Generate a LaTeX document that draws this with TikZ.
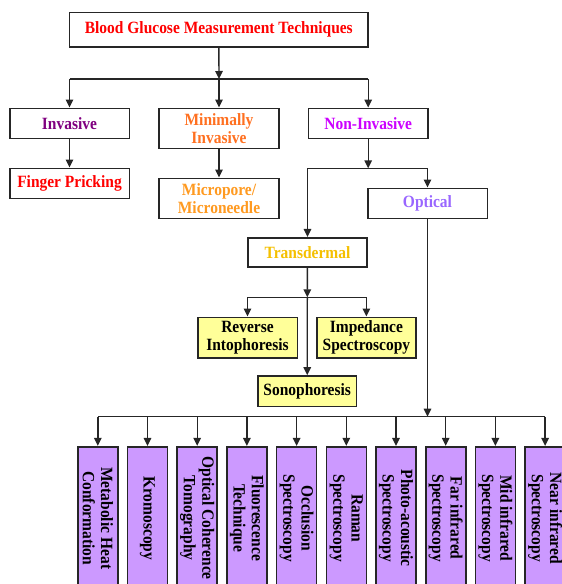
\documentclass[tikz,border=0pt]{standalone}
\usepackage{fontspec}
\setmainfont{Liberation Serif}[FakeStretch=0.9]
\usetikzlibrary{arrows.meta}
\definecolor{titlered}{HTML}{FF0000}
\definecolor{invpurple}{HTML}{800080}
\definecolor{miniorange}{HTML}{FF7020}
\definecolor{microorange}{HTML}{FF9A20}
\definecolor{nonmag}{HTML}{CC00FF}
\definecolor{optviolet}{HTML}{9966FF}
\definecolor{transgold}{HTML}{F5C000}
\definecolor{yellowfill}{HTML}{FFFF99}
\definecolor{purplefill}{HTML}{CC99FF}
\definecolor{linecol}{HTML}{262626}
\begin{document}
\begin{tikzpicture}[x=1pt,y=-1pt,
  box/.style={draw=linecol, line width=1.6pt, fill=white, rectangle, inner sep=0pt,
    align=center, font=\fontsize{17.2}{18.3}\selectfont\bfseries},
  ybox/.style={box, fill=yellowfill},
  pbox/.style={box, fill=purplefill, rotate=-90, minimum width=143pt, minimum height=40pt},
  conn/.style={draw=linecol, line width=1.4pt},
  arr/.style={conn, -{Triangle[length=8pt,width=7.5pt]}}]
\useasboundingbox (0,0) rectangle (562,584);
\clip (0,0) rectangle (562,584);

% nodes
\node[box, minimum width=298.5pt, minimum height=34.4pt, text=titlered] (top) at (218.8,29.5) {Blood Glucose Measurement Techniques};
\node[box, minimum width=119.6pt, minimum height=30pt, text=invpurple] (inv) at (69.5,123.3) {Invasive};
\node[box, minimum width=119.6pt, minimum height=40pt, text=miniorange] (mini) at (219,128.3) {Minimally\\Invasive};
\node[box, minimum width=119.6pt, minimum height=30pt, text=nonmag] (non) at (368.2,123.3) {Non-Invasive};
\node[box, minimum width=119.6pt, minimum height=30pt, text=titlered] (finger) at (69.5,183.3) {Finger Pricking};
\node[box, minimum width=119.6pt, minimum height=40pt, text=microorange] (micro) at (219,198.3) {Micropore/\\Microneedle};
\node[box, minimum width=119.6pt, minimum height=30pt, text=optviolet] (optical) at (427.5,203.3) {Optical};
\node[box, minimum width=119.4pt, minimum height=29pt, text=transgold] (trans) at (307.5,252.2) {Transdermal};
\node[ybox, minimum width=99.6pt, minimum height=40.4pt] (reverse) at (247.5,337.5) {Reverse\\Intophoresis};
\node[ybox, minimum width=99.3pt, minimum height=40.4pt] (imped) at (366.4,337.5) {Impedance\\Spectroscopy};
\node[ybox, minimum width=98.7pt, minimum height=30.7pt] (sono) at (307.2,391.3) {Sonophoresis};

\foreach \i/\t in {1/{Metabolic Heat\\Conformation},2/{Kromoscopy},3/{Optical Coherence\\Tomography},
  4/{Fluorescence\\Technique},5/{Occlusion\\Spectroscopy},6/{Raman\\Spectroscopy},
  7/{Photo-acoustic\\Spectroscopy},8/{Far infrared\\Spectroscopy},9/{Mid infrared\\Spectroscopy},
  10/{Near infrared\\Spectroscopy}}{
  \pgfmathsetmacro{\xx}{97.8+49.7*(\i-1)}
  \node[pbox] (b\i) at (\xx,518.2) {\t};
  \coordinate (jD\i) at (\xx,416.7);
}

% junction coordinates
\coordinate (jA) at (219,79);
\coordinate (jAl) at (69.5,79);
\coordinate (jAr) at (368.2,79);
\coordinate (jB) at (368.2,168.3);
\coordinate (jBl) at (307.5,168.3);
\coordinate (jBr) at (427.5,168.3);
\coordinate (jC) at (307.3,297.3);
\coordinate (jCl) at (247.5,297.3);
\coordinate (jCr) at (366.4,297.3);
\coordinate (jD) at (427.5,416.7);

% connectors
\draw[arr] (top) -- (jA);
\draw[conn] (jAl) -- (jAr);
\draw[arr] (jAl) -- (inv);
\draw[arr] (jA) -- (mini);
\draw[arr] (jAr) -- (non);
\draw[arr] (inv) -- (finger);
\draw[arr] (mini) -- (micro);

\draw[arr] (non) -- (jB);
\draw[conn] (jBl) -- (jBr);
\draw[arr] (jBl) -- (trans);
\draw[arr] (jBr) -- (optical);

\draw[arr] (trans) -- (jC);
\draw[conn] (jCl) -- (jCr);
\draw[arr] (jCl) -- (reverse);
\draw[arr] (jCr) -- (imped);
\draw[arr] (jC) -- (sono);

\draw[arr] (optical) -- (jD);
\draw[conn] (jD1) -- (jD10);
\foreach \i in {1,...,10}{
  \draw[arr] (jD\i) -- (b\i);
}
\end{tikzpicture}
\end{document}
